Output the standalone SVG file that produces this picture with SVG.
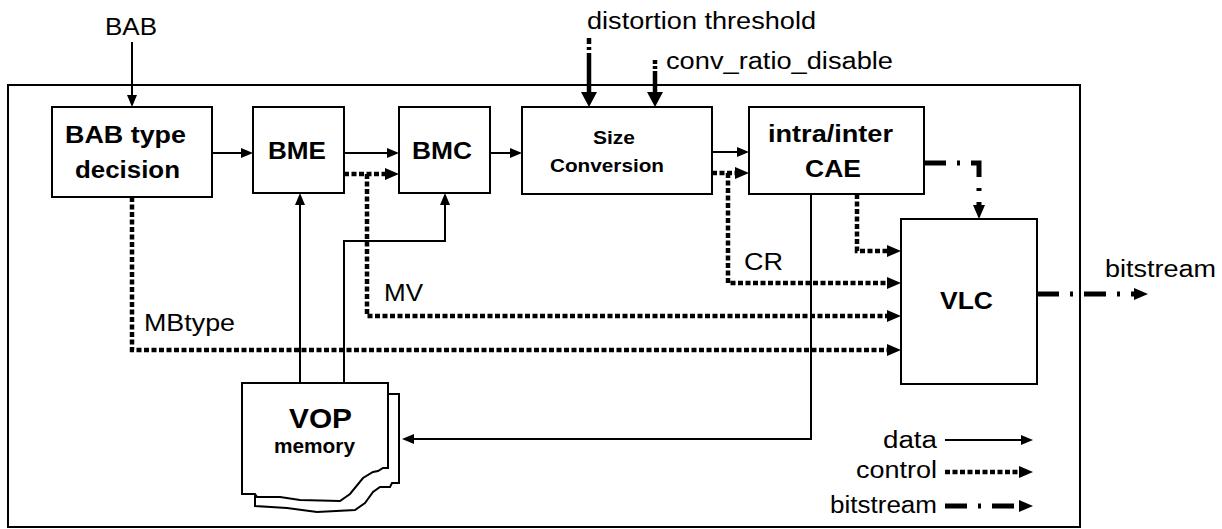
<svg xmlns="http://www.w3.org/2000/svg" width="1222" height="529" viewBox="0 0 1222 529">
<style>
.box{fill:#fff;stroke:#000;stroke-width:2}
.data{fill:none;stroke:#000;stroke-width:2}
.ctrl{fill:none;stroke:#000;stroke-width:4.5;stroke-dasharray:5 2.5}
.bits{fill:none;stroke:#000;stroke-width:5;stroke-dasharray:22 11 3 11}
text{font-family:"Liberation Sans",Arial,Helvetica,sans-serif;font-size:23px;fill:#000}
.b{font-weight:bold}
</style>
<defs>
<marker id="a" viewBox="0 0 12 10" refX="1" refY="5" markerWidth="12" markerHeight="10" markerUnits="userSpaceOnUse" orient="auto"><path d="M0,0L12,5L0,10z"/></marker>
<marker id="c" viewBox="0 0 14 12" refX="1" refY="6" markerWidth="14" markerHeight="12" markerUnits="userSpaceOnUse" orient="auto"><path d="M0,0L14,6L0,12z"/></marker>
<marker id="g" viewBox="0 0 15 16" refX="1" refY="8" markerWidth="15" markerHeight="16" markerUnits="userSpaceOnUse" orient="auto"><path d="M0,0L15,8L0,16z"/></marker>
</defs>
<rect id="frame" x="8" y="85" width="1072" height="442" fill="none" stroke="#000" stroke-width="2"/>
<g id="connectors">
<path class="data" d="M132,42V96" marker-end="url(#a)"/>
<path class="data" d="M212,153H242" marker-end="url(#a)"/>
<path class="data" d="M344,153H388" marker-end="url(#a)"/>
<path class="data" d="M490,153H511" marker-end="url(#a)"/>
<path class="data" d="M712,152H738" marker-end="url(#a)"/>
<path class="data" d="M300,383V204" marker-end="url(#a)"/>
<path class="data" d="M344,383V241H445V204" marker-end="url(#a)"/>
<path class="data" d="M811,194V439H413" marker-end="url(#a)"/>
<path class="ctrl" d="M132,197V350H888" marker-end="url(#c)"/>
<path class="ctrl" d="M344,174H386" marker-end="url(#c)"/>
<path class="ctrl" d="M367,174V316H888" marker-end="url(#c)"/>
<path class="ctrl" d="M712,173H736" marker-end="url(#c)"/>
<path class="ctrl" d="M728,173V283H888" marker-end="url(#c)"/>
<path class="ctrl" d="M857,194V251H888" marker-end="url(#c)"/>
<path class="ctrl" d="M589,38V93" style="stroke-dasharray:6 3 3 3 100" marker-end="url(#g)"/>
<path class="ctrl" d="M655,60V93" style="stroke-dasharray:4 2 3 2 100" marker-end="url(#g)"/>
<path class="bits" d="M924,163H979V206" marker-end="url(#c)"/>
<path class="bits" d="M1037,294H1135" marker-end="url(#c)"/>
<path class="data" d="M945,440H1022" marker-end="url(#a)"/>
<path class="ctrl" d="M945,472H1020" marker-end="url(#c)"/>
<path class="bits" d="M945,506H1020" marker-end="url(#c)"/>
</g>
<g id="bab">
<rect class="box" x="52" y="107" width="160" height="90"/>
<text class="b" x="65" y="143" textLength="121" lengthAdjust="spacingAndGlyphs">BAB type</text>
<text class="b" x="75" y="178" textLength="105" lengthAdjust="spacingAndGlyphs">decision</text>
</g>
<g id="bme">
<rect class="box" x="253" y="107" width="91" height="86"/>
<text class="b" x="268" y="159" textLength="58" lengthAdjust="spacingAndGlyphs">BME</text>
</g>
<g id="bmc">
<rect class="box" x="399" y="107" width="91" height="86"/>
<text class="b" x="412" y="159" textLength="60" lengthAdjust="spacingAndGlyphs">BMC</text>
</g>
<g id="size">
<rect class="box" x="522" y="107" width="190" height="87"/>
<text class="b" x="593" y="144" textLength="42" lengthAdjust="spacingAndGlyphs" style="font-size:18px">Size</text>
<text class="b" x="550" y="172" textLength="114" lengthAdjust="spacingAndGlyphs" style="font-size:18px">Conversion</text>
</g>
<g id="cae">
<rect class="box" x="749" y="107" width="175" height="87"/>
<text class="b" x="768" y="142" textLength="125" lengthAdjust="spacingAndGlyphs">intra/inter</text>
<text class="b" x="805" y="177" textLength="56" lengthAdjust="spacingAndGlyphs">CAE</text>
</g>
<g id="vlc">
<rect class="box" x="901" y="219" width="136" height="165"/>
<text class="b" x="940" y="309" textLength="53" lengthAdjust="spacingAndGlyphs">VLC</text>
</g>
<g id="vop">
<path class="box" d="M255,394H399V483L392,483L390,487L380,487L373,492L365,503L355,510L317,512L287,508L255,506Z"/>
<path class="box" d="M242,383H388V468L383,468L378,471L373,472L363,478L350,494L340,501L300,500L280,497L257,497L255,494L242,494Z"/>
<text class="b" x="289" y="428" textLength="63" lengthAdjust="spacingAndGlyphs" style="font-size:28px">VOP</text>
<text class="b" x="274" y="453" textLength="81" lengthAdjust="spacingAndGlyphs" style="font-size:20px">memory</text>
</g>
<g id="labels">
<text x="105" y="35" textLength="52" lengthAdjust="spacingAndGlyphs">BAB</text>
<text x="587" y="29" textLength="229" lengthAdjust="spacingAndGlyphs">distortion threshold</text>
<text x="666" y="69" textLength="227" lengthAdjust="spacingAndGlyphs">conv_ratio_disable</text>
<text x="144" y="331" textLength="91" lengthAdjust="spacingAndGlyphs">MBtype</text>
<text x="384" y="301" textLength="39" lengthAdjust="spacingAndGlyphs">MV</text>
<text x="744" y="270" textLength="39" lengthAdjust="spacingAndGlyphs">CR</text>
<text x="1105" y="277" textLength="111" lengthAdjust="spacingAndGlyphs">bitstream</text>
<text x="883" y="448" textLength="54" lengthAdjust="spacingAndGlyphs">data</text>
<text x="856" y="478" textLength="81" lengthAdjust="spacingAndGlyphs">control</text>
<text x="830" y="513" textLength="107" lengthAdjust="spacingAndGlyphs">bitstream</text>
</g>
</svg>
